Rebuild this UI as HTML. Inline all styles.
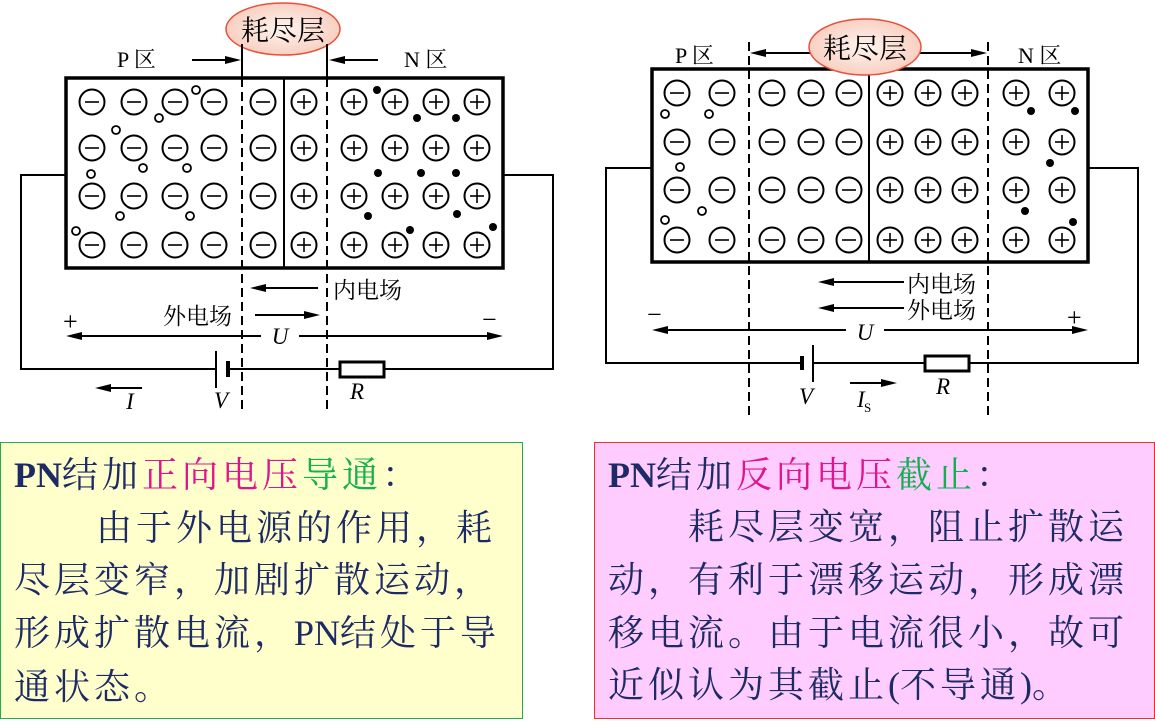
<!DOCTYPE html>
<html><head><meta charset="utf-8">
<style>
body{margin:0;width:1155px;height:721px;background:#fff;overflow:hidden;position:relative;font-family:"Liberation Serif","Noto Serif CJK SC",serif;}
svg{position:absolute;left:0;top:0}
.box{position:absolute;top:442px;height:277px;box-sizing:border-box}
.ln{position:absolute;font-size:36px;letter-spacing:4px;color:#1c2a66;white-space:nowrap;line-height:40px;font-family:"Liberation Serif","Noto Serif CJK SC",serif}
.m{color:#e0148c}.g{color:#12b050}
b{font-family:"Liberation Serif",serif;letter-spacing:0}
.n{letter-spacing:0}
</style></head><body>
<svg width="1155" height="721" viewBox="0 0 1155 721" font-family="Liberation Serif, Noto Serif CJK SC, serif">
<defs>
<g id="mi"><circle r="12.5" fill="none" stroke="#000" stroke-width="2"/><line x1="-7" y1="0" x2="7" y2="0" stroke="#000" stroke-width="1.6"/></g>
<g id="pl"><circle r="12.5" fill="none" stroke="#000" stroke-width="2"/><line x1="-7" y1="0" x2="7" y2="0" stroke="#000" stroke-width="1.6"/><line x1="0" y1="-7" x2="0" y2="7" stroke="#000" stroke-width="1.6"/></g>
<radialGradient id="eg" cx="50%" cy="50%" r="50%"><stop offset="0" stop-color="#fff4ee"/><stop offset="1" stop-color="#f8d0c2"/></radialGradient>
</defs>
<!-- LEFT DIAGRAM -->
<g stroke="#000" fill="none">
<rect x="66" y="78" width="437" height="190" stroke-width="3.5"/>
<line x1="284" y1="78" x2="284" y2="268" stroke-width="2"/>
<polyline points="66,175 21,175 21,369 216,369" stroke-width="2"/>
<polyline points="228,369 340,369" stroke-width="2"/>
<polyline points="384,369 553,369 553,175 503,175" stroke-width="2"/>
<line x1="216" y1="351" x2="216" y2="388" stroke-width="2"/>
<line x1="228" y1="361" x2="228" y2="377" stroke-width="4"/>
<rect x="340" y="362" width="44" height="15" stroke-width="3"/>
<line x1="242" y1="48" x2="242" y2="78" stroke-width="2"/>
<line x1="327" y1="48" x2="327" y2="78" stroke-width="2"/>
<line x1="242" y1="78" x2="242" y2="412" stroke-width="2" stroke-dasharray="9,5"/>
<line x1="327" y1="78" x2="327" y2="412" stroke-width="2" stroke-dasharray="9,5"/>
<line x1="192" y1="60" x2="230" y2="60" stroke-width="2"/>
<line x1="340" y1="60" x2="378" y2="60" stroke-width="2"/>
<line x1="262" y1="288" x2="318" y2="288" stroke-width="2"/>
<line x1="255" y1="315" x2="308" y2="315" stroke-width="2"/>
<line x1="78" y1="336" x2="261" y2="336" stroke-width="2"/>
<line x1="299" y1="336" x2="491" y2="336" stroke-width="2"/>
<line x1="107" y1="388" x2="142" y2="388" stroke-width="2"/>
</g>
<g fill="#000">
<polygon points="241,60 225,56 225,64"/>
<polygon points="329,60 345,56 345,64"/>
<polygon points="250,288 266,284 266,292"/>
<polygon points="320,315 304,311 304,319"/>
<polygon points="66,336 82,332 82,340"/>
<polygon points="503,336 487,332 487,340"/>
<polygon points="95,388 111,384 111,392"/>
</g>
<ellipse cx="283" cy="29" rx="57" ry="26" fill="url(#eg)" stroke="#e8503a" stroke-width="1.5"/>
<line x1="242" y1="44" x2="242" y2="56" stroke="#000" stroke-width="2"/>
<line x1="327" y1="44" x2="327" y2="56" stroke="#000" stroke-width="2"/>
<text x="283" y="40" font-size="28" text-anchor="middle" fill="#000">耗尽层</text>
<text x="117" y="67" font-size="22">P 区</text>
<text x="404" y="67" font-size="22">N 区</text>
<text x="333" y="298" font-size="23">内电场</text>
<text x="163" y="324" font-size="23">外电场</text>
<text x="63" y="330" font-size="26">+</text>
<text x="482" y="328" font-size="26">−</text>
<text x="280" y="344" font-size="23" font-style="italic" text-anchor="middle">U</text>
<text x="130" y="409" font-size="23" font-style="italic" text-anchor="middle">I</text>
<text x="221" y="408" font-size="23" font-style="italic" text-anchor="middle">V</text>
<text x="357" y="399" font-size="23" font-style="italic" text-anchor="middle">R</text>
<g>
<use href="#mi" x="92" y="102"/><use href="#mi" x="134" y="102"/><use href="#mi" x="175" y="102"/><use href="#mi" x="214" y="102"/><use href="#mi" x="263" y="102"/>
<use href="#mi" x="92" y="148"/><use href="#mi" x="134" y="148"/><use href="#mi" x="175" y="148"/><use href="#mi" x="214" y="148"/><use href="#mi" x="263" y="148"/>
<use href="#mi" x="92" y="196"/><use href="#mi" x="134" y="196"/><use href="#mi" x="175" y="196"/><use href="#mi" x="214" y="196"/><use href="#mi" x="263" y="196"/>
<use href="#mi" x="92" y="245"/><use href="#mi" x="134" y="245"/><use href="#mi" x="175" y="245"/><use href="#mi" x="214" y="245"/><use href="#mi" x="263" y="245"/>
<use href="#pl" x="304" y="102"/><use href="#pl" x="354" y="102"/><use href="#pl" x="395" y="102"/><use href="#pl" x="436" y="102"/><use href="#pl" x="477" y="102"/>
<use href="#pl" x="304" y="148"/><use href="#pl" x="354" y="148"/><use href="#pl" x="395" y="148"/><use href="#pl" x="436" y="148"/><use href="#pl" x="477" y="148"/>
<use href="#pl" x="304" y="196"/><use href="#pl" x="354" y="196"/><use href="#pl" x="395" y="196"/><use href="#pl" x="436" y="196"/><use href="#pl" x="477" y="196"/>
<use href="#pl" x="304" y="245"/><use href="#pl" x="354" y="245"/><use href="#pl" x="395" y="245"/><use href="#pl" x="436" y="245"/><use href="#pl" x="477" y="245"/>
</g>
<g fill="none" stroke="#000" stroke-width="1.8">
<circle cx="196" cy="90" r="4"/><circle cx="159" cy="118" r="4"/><circle cx="116" cy="130" r="4"/><circle cx="143" cy="168" r="4"/><circle cx="187" cy="168" r="4"/><circle cx="91" cy="174" r="4"/><circle cx="120" cy="216" r="4"/><circle cx="190" cy="216" r="4"/><circle cx="76" cy="231" r="4"/>
<circle cx="665" cy="114" r="4"/><circle cx="709" cy="114" r="4"/><circle cx="680" cy="167" r="4"/><circle cx="702" cy="211" r="4"/><circle cx="665" cy="220" r="4"/>
</g>
<g fill="#000">
<circle cx="377" cy="90" r="4"/><circle cx="417" cy="118" r="4"/><circle cx="456" cy="118" r="4"/><circle cx="378" cy="173" r="4"/><circle cx="421" cy="173" r="4"/><circle cx="456" cy="173" r="4"/><circle cx="368" cy="216" r="4"/><circle cx="457" cy="214" r="4"/><circle cx="410" cy="230" r="4"/><circle cx="493" cy="227" r="4"/>
<circle cx="1031" cy="111" r="4"/><circle cx="1075" cy="111" r="4"/><circle cx="1050" cy="163" r="4"/><circle cx="1025" cy="211" r="4"/><circle cx="1073" cy="222" r="4"/>
</g>
<!-- RIGHT DIAGRAM -->
<g stroke="#000" fill="none">
<rect x="652" y="69" width="436" height="193" stroke-width="3.5"/>
<line x1="869" y1="69" x2="869" y2="262" stroke-width="2"/>
<polyline points="652,168 606,168 606,363 802,363" stroke-width="2"/>
<polyline points="813,363 925,363" stroke-width="2"/>
<polyline points="969,363 1138,363 1138,168 1088,168" stroke-width="2"/>
<line x1="802" y1="356" x2="802" y2="370" stroke-width="4"/>
<line x1="813" y1="345" x2="813" y2="382" stroke-width="2"/>
<rect x="925" y="356" width="44" height="15" stroke-width="3"/>
<line x1="749" y1="42" x2="749" y2="416" stroke-width="2" stroke-dasharray="9,5"/>
<line x1="988" y1="42" x2="988" y2="416" stroke-width="2" stroke-dasharray="9,5"/>
<line x1="760" y1="53" x2="812" y2="53" stroke-width="2"/>
<line x1="918" y1="53" x2="976" y2="53" stroke-width="2"/>
<line x1="830" y1="282" x2="904" y2="282" stroke-width="2"/>
<line x1="830" y1="308" x2="904" y2="308" stroke-width="2"/>
<line x1="664" y1="330" x2="846" y2="330" stroke-width="2"/>
<line x1="884" y1="330" x2="1076" y2="330" stroke-width="2"/>
<line x1="850" y1="383" x2="885" y2="383" stroke-width="2"/>
</g>
<g fill="#000">
<polygon points="750,53 766,49 766,57"/>
<polygon points="987,53 971,49 971,57"/>
<polygon points="818,282 834,278 834,286"/>
<polygon points="818,308 834,304 834,312"/>
<polygon points="652,330 668,326 668,334"/>
<polygon points="1088,330 1072,326 1072,334"/>
<polygon points="897,383 881,379 881,387"/>
</g>
<ellipse cx="865" cy="47" rx="56" ry="28" fill="url(#eg)" stroke="#e8503a" stroke-width="1.5"/>
<text x="865" y="58" font-size="28" text-anchor="middle" fill="#000">耗尽层</text>
<text x="675" y="63" font-size="22">P 区</text>
<text x="1018" y="63" font-size="22">N 区</text>
<text x="907" y="292" font-size="23">内电场</text>
<text x="907" y="318" font-size="23">外电场</text>
<text x="647" y="323" font-size="26">−</text>
<text x="1067" y="326" font-size="26">+</text>
<text x="865" y="340" font-size="23" font-style="italic" text-anchor="middle">U</text>
<text x="806" y="404" font-size="23" font-style="italic" text-anchor="middle">V</text>
<text x="857" y="407" font-size="23" font-style="italic">I</text><text x="864" y="412" font-size="13">S</text>
<text x="943" y="394" font-size="23" font-style="italic" text-anchor="middle">R</text>
<g>
<use href="#mi" x="677" y="93"/><use href="#mi" x="722" y="93"/><use href="#mi" x="772" y="93"/><use href="#mi" x="811" y="93"/><use href="#mi" x="849" y="93"/>
<use href="#mi" x="677" y="142"/><use href="#mi" x="722" y="142"/><use href="#mi" x="772" y="142"/><use href="#mi" x="811" y="142"/><use href="#mi" x="849" y="142"/>
<use href="#mi" x="677" y="190"/><use href="#mi" x="722" y="190"/><use href="#mi" x="772" y="190"/><use href="#mi" x="811" y="190"/><use href="#mi" x="849" y="190"/>
<use href="#mi" x="677" y="240"/><use href="#mi" x="722" y="240"/><use href="#mi" x="772" y="240"/><use href="#mi" x="811" y="240"/><use href="#mi" x="849" y="240"/>
<use href="#pl" x="890" y="93"/><use href="#pl" x="928" y="93"/><use href="#pl" x="965" y="93"/><use href="#pl" x="1016" y="93"/><use href="#pl" x="1062" y="93"/>
<use href="#pl" x="890" y="142"/><use href="#pl" x="928" y="142"/><use href="#pl" x="965" y="142"/><use href="#pl" x="1016" y="142"/><use href="#pl" x="1062" y="142"/>
<use href="#pl" x="890" y="190"/><use href="#pl" x="928" y="190"/><use href="#pl" x="965" y="190"/><use href="#pl" x="1016" y="190"/><use href="#pl" x="1062" y="190"/>
<use href="#pl" x="890" y="240"/><use href="#pl" x="928" y="240"/><use href="#pl" x="965" y="240"/><use href="#pl" x="1016" y="240"/><use href="#pl" x="1062" y="240"/>
</g>
</svg>

<div class="box" style="left:0;width:523px;background:#ffffcc;border:1.5px solid #22aa55"></div>
<div class="box" style="left:594px;width:561px;background:#ffccff;border:1.5px solid #ee3322"></div>

<div class="ln" style="left:14px;top:455px"><b>PN</b>结加<span class="m">正向电压</span><span class="g">导通</span>：</div>
<div class="ln" style="left:96px;top:508px">由于外电源的作用，耗</div>
<div class="ln" style="left:14px;top:560px">尽层变窄，加剧扩散运动，</div>
<div class="ln" style="left:14px;top:613px">形成扩散电流，<span class="n">PN</span>结处于导</div>
<div class="ln" style="left:14px;top:667px">通状态。</div>

<div class="ln" style="left:608px;top:455px"><b>PN</b>结加<span class="m">反向电压</span><span class="g">截止</span>：</div>
<div class="ln" style="left:688px;top:507px">耗尽层变宽，阻止扩散运</div>
<div class="ln" style="left:608px;top:560px">动，有利于漂移运动，形成漂</div>
<div class="ln" style="left:608px;top:613px">移电流。由于电流很小，故可</div>
<div class="ln" style="left:608px;top:665px">近似认为其截止<span class="n">(</span>不导通<span class="n">)</span>。</div>
</body></html>
